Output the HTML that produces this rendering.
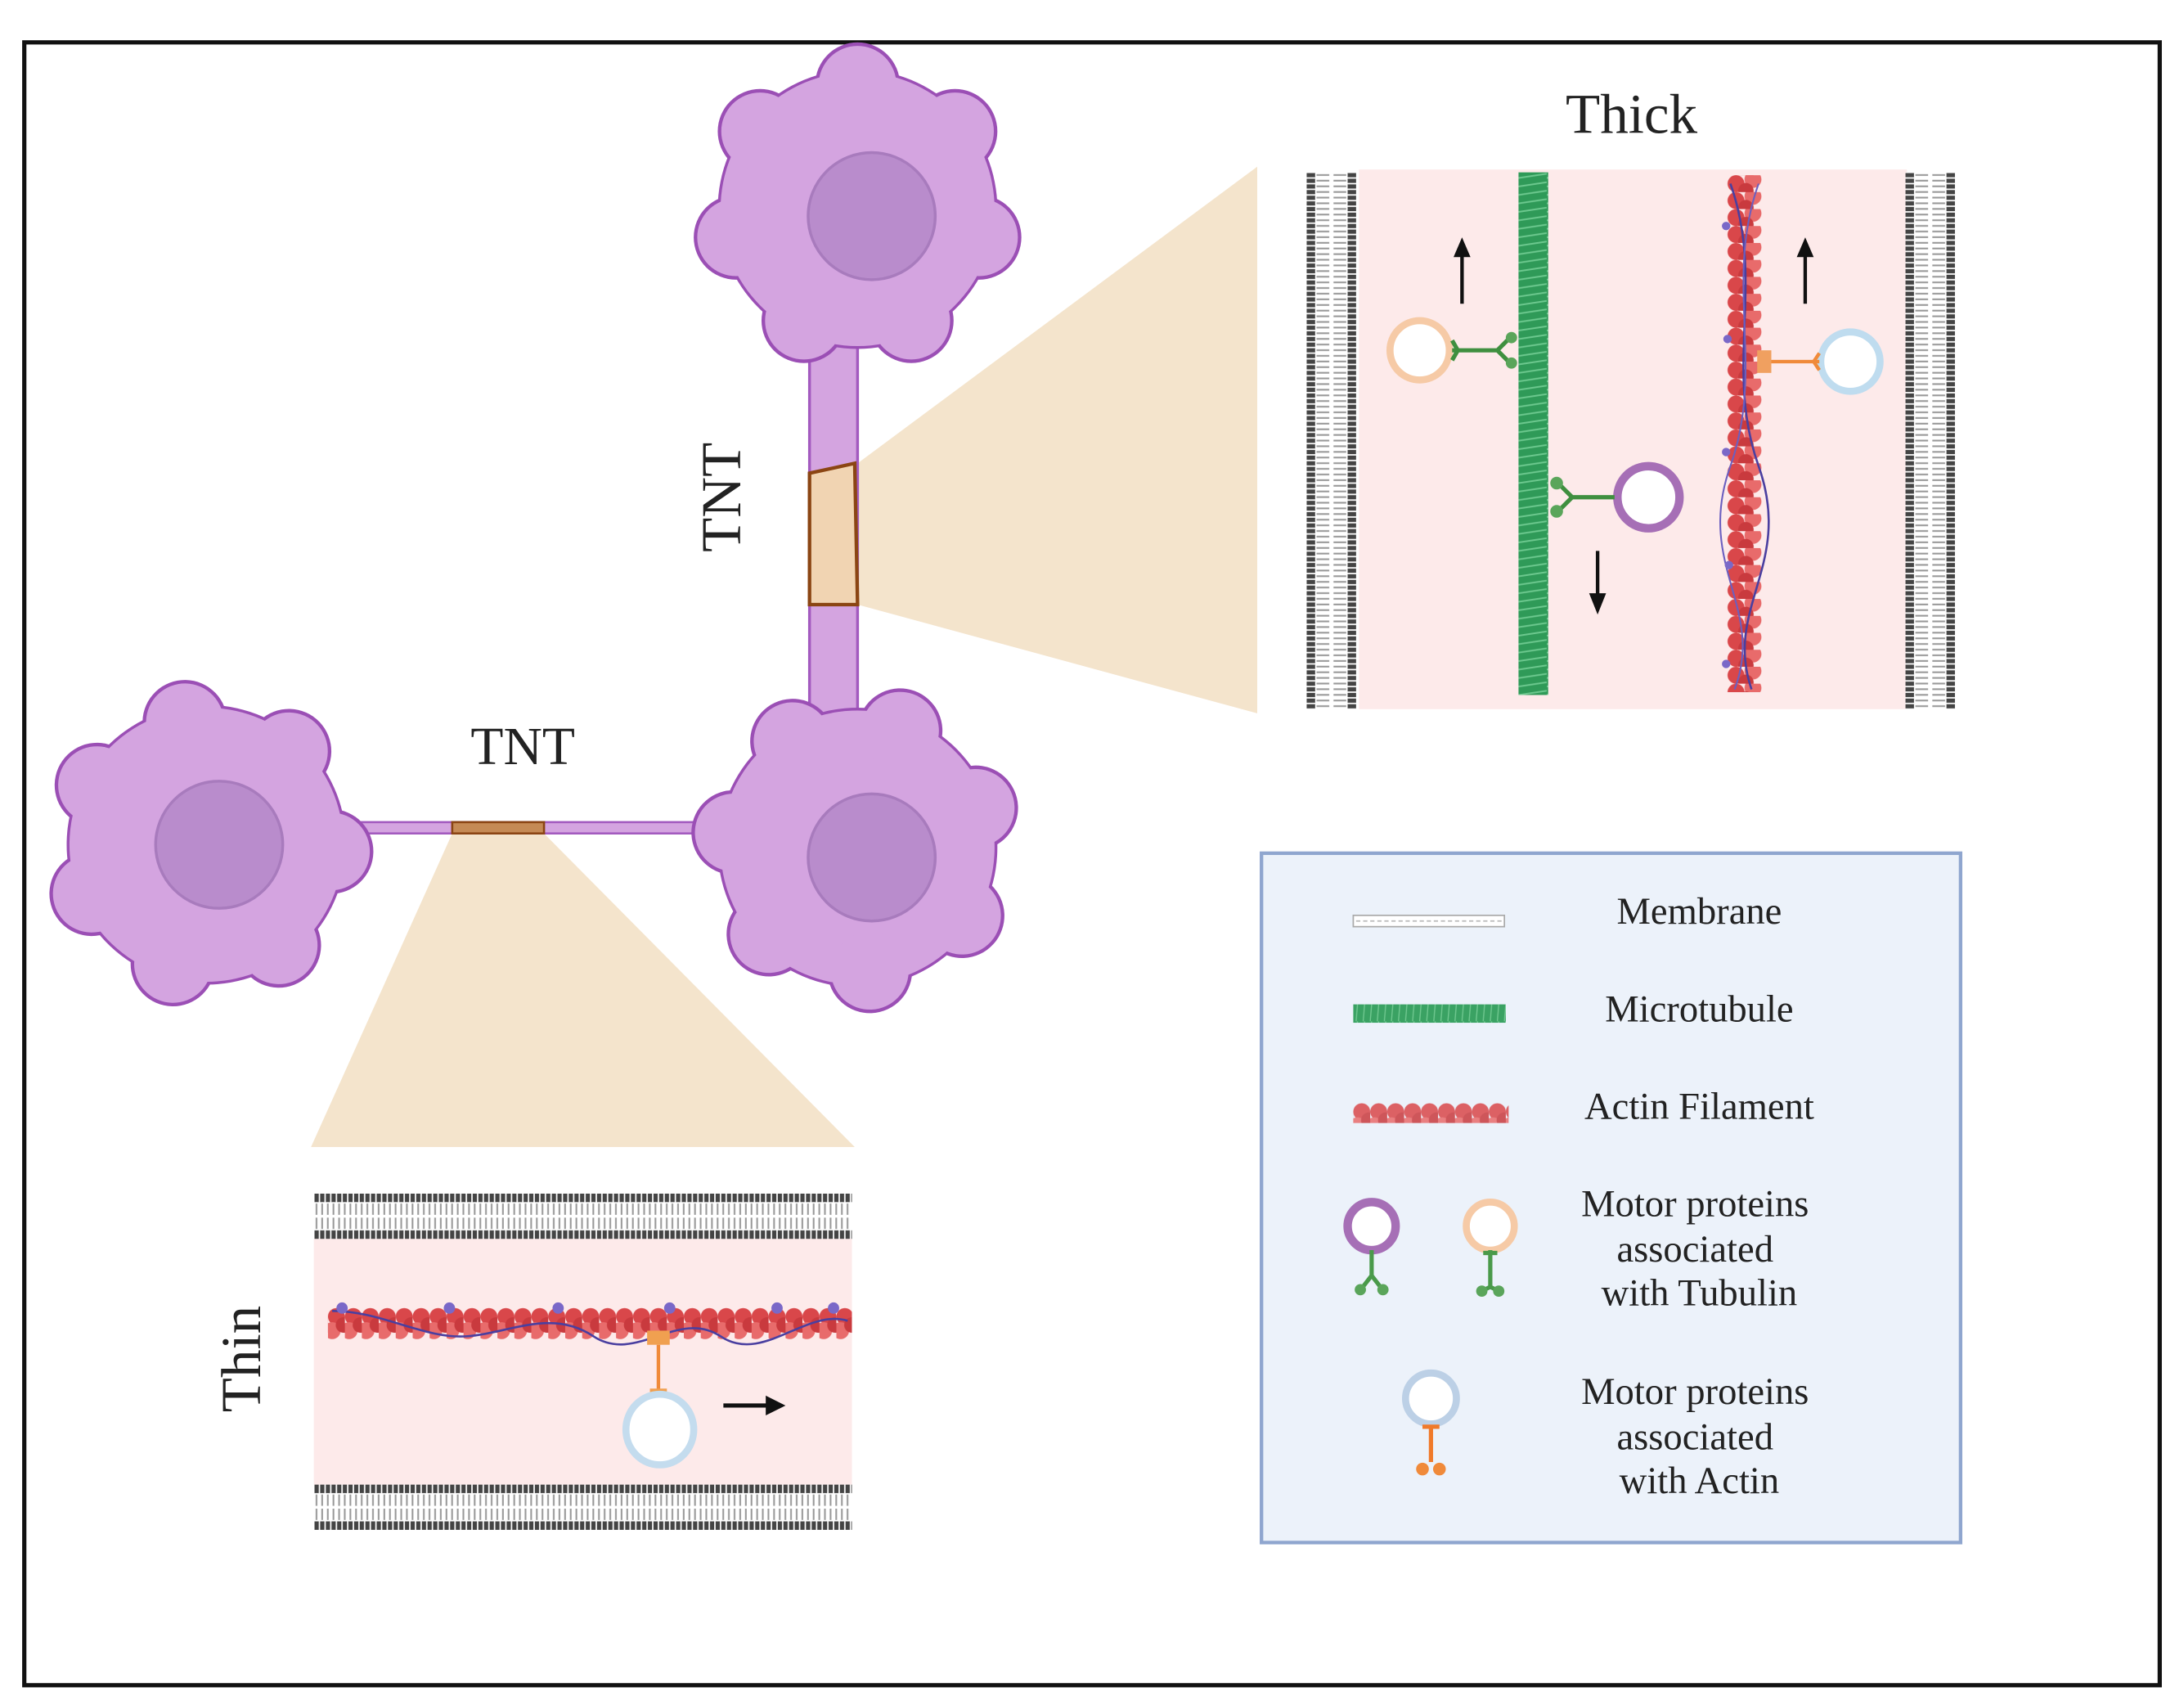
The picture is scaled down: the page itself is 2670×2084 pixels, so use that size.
<!DOCTYPE html>
<html><head><meta charset="utf-8"><style>
html,body{margin:0;padding:0;background:#fff;}
svg{display:block;}
text{font-family:"Liberation Serif",serif;fill:#222;}
</style></head><body>
<svg width="2670" height="2084" viewBox="0 0 1546 1207" xmlns="http://www.w3.org/2000/svg">
<defs>
<pattern id="memV" width="35" height="4" patternUnits="userSpaceOnUse">
<rect width="35" height="4" fill="#fff"/>
<rect x="0" y="0.5" width="6" height="3" fill="#444"/>
<rect x="29" y="0.5" width="6" height="3" fill="#444"/>
<rect x="7" y="1.3" width="9" height="1.2" fill="#999"/>
<rect x="19" y="1.3" width="9" height="1.2" fill="#999"/>
</pattern>
<pattern id="memH" width="4" height="32" patternUnits="userSpaceOnUse">
<rect width="4" height="32" fill="#fff"/>
<rect x="0.5" y="0" width="3" height="6" fill="#444"/>
<rect x="0.5" y="26" width="3" height="6" fill="#444"/>
<rect x="1.3" y="7" width="1.2" height="8" fill="#999"/>
<rect x="1.3" y="17" width="1.2" height="8" fill="#999"/>
</pattern>
<pattern id="mt" width="20" height="6" patternUnits="userSpaceOnUse">
<rect width="20" height="6" fill="#2f9a58"/>
<path d="M0 4 L20 1" stroke="#6cc88e" stroke-width="1.2"/>
</pattern>
<pattern id="mtH" width="5" height="12" patternUnits="userSpaceOnUse">
<rect width="5" height="12" fill="#3aa263"/>
<path d="M3 0 L2 12" stroke="#70c890" stroke-width="0.8"/>
</pattern>
<pattern id="actV" width="28" height="12" patternUnits="userSpaceOnUse">
<circle cx="7" cy="6" r="6" fill="#d9474a"/>
<circle cx="19" cy="3" r="6" fill="#e86b6b"/>
<circle cx="14" cy="11" r="5.5" fill="#c93a3e"/>
</pattern>
<pattern id="actH" width="12" height="24" patternUnits="userSpaceOnUse">
<circle cx="6" cy="7" r="6" fill="#d9474a"/>
<circle cx="3" cy="17" r="6" fill="#e86b6b"/>
<circle cx="11" cy="13" r="5.5" fill="#c93a3e"/>
</pattern>
<g id="cell">
<g fill="#9b4fb5">
<circle r="99"/>
<circle cx="0" cy="-88" r="30"/><circle cx="69" cy="-55" r="30"/><circle cx="86" cy="20" r="30"/><circle cx="38" cy="79" r="30"/><circle cx="-38" cy="79" r="30"/><circle cx="-86" cy="20" r="30"/><circle cx="-69" cy="-55" r="30"/>
</g>
<g fill="#d4a4e0">
<circle r="97"/>
<circle cx="0" cy="-88" r="27.5"/><circle cx="69" cy="-55" r="27.5"/><circle cx="86" cy="20" r="27.5"/><circle cx="38" cy="79" r="27.5"/><circle cx="-38" cy="79" r="27.5"/><circle cx="-86" cy="20" r="27.5"/><circle cx="-69" cy="-55" r="27.5"/>
</g>
</g>
</defs>

<rect x="17" y="30" width="1512" height="1163" fill="#fff" stroke="#111" stroke-width="3"/>

<polygon points="607,328 890,118 890,505 607,428" fill="#f4e4cc"/>
<polygon points="320,590 385,590 605,812 220,812" fill="#f4e4cc"/>

<rect x="573" y="225" width="34" height="285" fill="#d4a4e0" stroke="#a35abf" stroke-width="2"/>
<polygon points="573,335 605,328 607,428 573,428" fill="#f1d4b2" stroke="#8b4513" stroke-width="2.5"/>
<rect x="230" y="582" width="270" height="8" fill="#d4a4e0" stroke="#a35abf" stroke-width="1.5"/>
<rect x="320" y="582" width="65" height="8" fill="#c58a55" stroke="#8b4513" stroke-width="1.5"/>

<use href="#cell" transform="translate(607,148)"/>
<circle cx="617" cy="153" r="45" fill="#b98ccc" stroke="#a87bbd" stroke-width="2"/>
<use href="#cell" transform="translate(607,600) rotate(20)"/>
<circle cx="617" cy="607" r="45" fill="#b98ccc" stroke="#a87bbd" stroke-width="2"/>
<use href="#cell" transform="translate(146,598) rotate(-10)"/>
<circle cx="155" cy="598" r="45" fill="#b98ccc" stroke="#a87bbd" stroke-width="2"/>

<text x="510" y="352" font-size="40" text-anchor="middle" transform="rotate(-90 510 352)" dy="14">TNT</text>
<text x="370" y="541" font-size="38" text-anchor="middle">TNT</text>
<text x="1155" y="94" font-size="40" text-anchor="middle">Thick</text>
<text x="170" y="962" font-size="40" text-anchor="middle" transform="rotate(-90 170 962)" dy="14">Thin</text>

<rect x="962" y="120" width="388" height="382" fill="#fdeaea"/>
<g transform="translate(925,122)"><rect width="35" height="380" fill="url(#memV)"/></g>
<g transform="translate(1349,122)"><rect width="35" height="380" fill="url(#memV)"/></g>
<g transform="translate(1075,122)"><rect width="21" height="370" fill="url(#mt)"/></g>
<g transform="translate(1222,124)"><rect width="26" height="366" fill="url(#actV)"/></g>
<path d="M1225 130 C1250 200,1220 260,1245 330 S1220 430,1240 488" stroke="#4a3fa0" stroke-width="1.5" fill="none"/>
<path d="M1245 130 C1220 200,1250 260,1225 330 S1250 430,1228 488" stroke="#6b5fc0" stroke-width="1.2" fill="none"/>
<g fill="#7a68c8"><circle cx="1222" cy="160" r="3"/><circle cx="1223" cy="240" r="3"/><circle cx="1222" cy="320" r="3"/><circle cx="1224" cy="400" r="3"/><circle cx="1222" cy="470" r="3"/></g>
<circle cx="1005" cy="248" r="21" fill="#fff" stroke="#f6caa6" stroke-width="5"/>
<path d="M1028 248 L1060 248 M1060 248 L1068 240 M1060 248 L1068 256 M1028 241 L1032 248 L1028 255" stroke="#3f8f3f" stroke-width="3" fill="none"/>
<circle cx="1070" cy="239" r="4" fill="#5aa55a"/><circle cx="1070" cy="257" r="4" fill="#5aa55a"/>
<circle cx="1167" cy="352" r="22" fill="#fff" stroke="#a66fb6" stroke-width="6"/>
<path d="M1143 352 L1113 352 M1113 352 L1104 343 M1113 352 L1104 361" stroke="#3f8f3f" stroke-width="3" fill="none"/>
<circle cx="1102" cy="342" r="4.5" fill="#5aa55a"/><circle cx="1102" cy="362" r="4.5" fill="#5aa55a"/>
<circle cx="1310" cy="256" r="21" fill="#fff" stroke="#bfdcef" stroke-width="5"/>
<path d="M1288 256 L1250 256 M1288 250 L1284 256 L1288 262" stroke="#f08a3a" stroke-width="2.5" fill="none"/>
<rect x="1244" y="248" width="10" height="16" fill="#f0a060"/>
<g stroke="#111" stroke-width="2.5" fill="#111">
<line x1="1035" y1="215" x2="1035" y2="180"/><polygon points="1029,182 1041,182 1035,168" stroke="none"/>
<line x1="1278" y1="215" x2="1278" y2="180"/><polygon points="1272,182 1284,182 1278,168" stroke="none"/>
<line x1="1131" y1="390" x2="1131" y2="422"/><polygon points="1125,420 1137,420 1131,435" stroke="none"/>
</g>

<rect x="222" y="876" width="381" height="176" fill="#fdeaea"/>
<g transform="translate(222,845)"><rect width="381" height="32" fill="url(#memH)"/></g>
<g transform="translate(222,1051)"><rect width="381" height="32" fill="url(#memH)"/></g>
<g transform="translate(232,925)"><rect width="371" height="24" fill="url(#actH)"/></g>
<path d="M235 928 C270 928,300 948,330 946 S390 926,420 946 S480 926,510 946 S570 926,600 935" stroke="#4a3fa0" stroke-width="1.5" fill="none"/>
<g fill="#7a68c8"><circle cx="242" cy="926" r="4"/><circle cx="318" cy="926" r="4"/><circle cx="395" cy="926" r="4"/><circle cx="474" cy="926" r="4"/><circle cx="550" cy="926" r="4"/><circle cx="590" cy="926" r="4"/></g>
<rect x="458" y="942" width="16" height="10" fill="#f0a050"/>
<line x1="466" y1="952" x2="466" y2="984" stroke="#f08a3a" stroke-width="2.5"/>
<rect x="460" y="983" width="12" height="6" fill="#f0a050"/>
<ellipse cx="467" cy="1012" rx="24" ry="25" fill="#fff" stroke="#c4dcee" stroke-width="5"/>
<line x1="512" y1="995" x2="545" y2="995" stroke="#111" stroke-width="3"/>
<polygon points="542,988 556,995 542,1002" fill="#111"/>

<rect x="893" y="604" width="495" height="488" fill="#ecf2fa" stroke="#8fa6cf" stroke-width="2.5"/>
<rect x="958" y="648" width="107" height="8" fill="#fff" stroke="#aaa" stroke-width="1"/>
<line x1="960" y1="652" x2="1063" y2="652" stroke="#bbb" stroke-width="1" stroke-dasharray="3 2"/>
<g transform="translate(958,711)"><rect width="108" height="13" fill="url(#mtH)"/></g>
<g transform="translate(958,780)"><rect width="110" height="15" fill="url(#actH)" opacity="0.85"/></g>
<circle cx="971" cy="868" r="17" fill="#fff" stroke="#a66fb6" stroke-width="6"/>
<path d="M971 885 L971 903 M971 903 L964 912 M971 903 L978 912" stroke="#4a9a4a" stroke-width="3" fill="none"/>
<circle cx="963" cy="913" r="4" fill="#5aa55a"/><circle cx="979" cy="913" r="4" fill="#5aa55a"/>
<circle cx="1055" cy="868" r="17" fill="#fff" stroke="#f6caa6" stroke-width="5"/>
<path d="M1055 885 L1055 911 M1050 887 L1060 887 M1055 911 L1049 914 M1055 911 L1061 914" stroke="#4a9a4a" stroke-width="3" fill="none"/>
<circle cx="1049" cy="914" r="4" fill="#5aa55a"/><circle cx="1061" cy="914" r="4" fill="#5aa55a"/>
<circle cx="1013" cy="990" r="18" fill="#fff" stroke="#bcd0e6" stroke-width="5"/>
<path d="M1013 1009 L1013 1035 M1007 1010 L1019 1010" stroke="#f07a2a" stroke-width="3" fill="none"/>
<circle cx="1007" cy="1040" r="4.5" fill="#f08a3a"/><circle cx="1019" cy="1040" r="4.5" fill="#f08a3a"/>

<g font-size="27" text-anchor="middle">
<text x="1203" y="654">Membrane</text>
<text x="1203" y="723">Microtubule</text>
<text x="1203" y="792">Actin Filament</text>
<text x="1200" y="861">Motor proteins</text>
<text x="1200" y="893">associated</text>
<text x="1203" y="924">with Tubulin</text>
<text x="1200" y="994">Motor proteins</text>
<text x="1200" y="1026">associated</text>
<text x="1203" y="1057">with Actin</text>
</g>
</svg>
</body></html>
